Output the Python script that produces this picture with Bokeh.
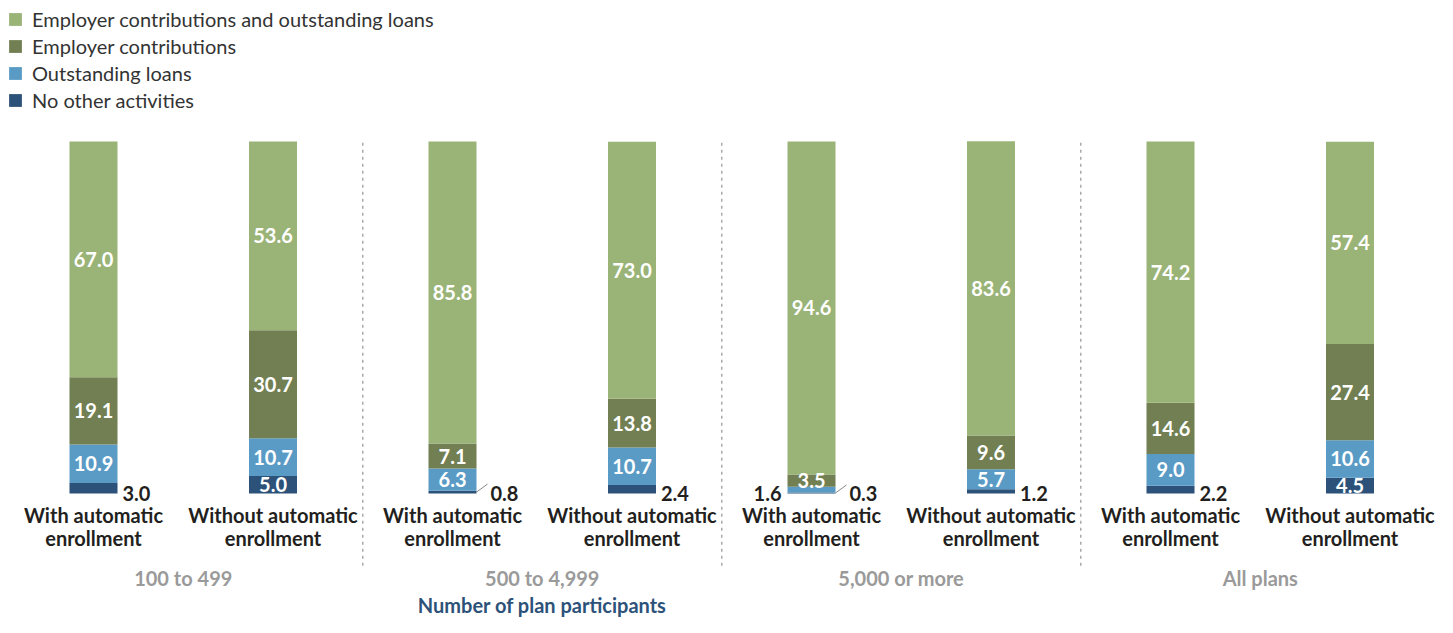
from bokeh.plotting import figure
from bokeh.models import ColumnDataSource, Range1d, Legend, LegendItem
from bokeh.core.properties import value
from bokeh.embed import file_html
from bokeh.resources import INLINE

# ---- data ----
groups = ["100 to 499", "500 to 4,999", "5,000 or more", "All plans"]
bar_line1 = ["With automatic", "Without automatic"] * 4
bar_line2 = ["enrollment"] * 8
no_other = [3.0, 5.0, 0.8, 2.4, 0.3, 1.2, 2.2, 4.5]
loans = [10.9, 10.7, 6.3, 10.7, 1.6, 5.7, 9.0, 10.6]
employer = [19.1, 30.7, 7.1, 13.8, 3.5, 9.6, 14.6, 27.4]
both = [67.0, 53.6, 85.8, 73.0, 94.6, 83.6, 74.2, 57.4]
series_names = ["No other activities", "Outstanding loans",
                "Employer contributions", "Employer contributions and outstanding loans"]
axis_title = "Number of plan participants"

# ---- style ----
colors = ["#2D5279", "#5A9BC6", "#717F53", "#9AB377"]
FONT = "Lato"
FS = "20px"
PITCH = 179.5          # px per bar slot
BAR_W = 48 / PITCH
PX_PER_UNIT = 3.52
N = len(no_other)

xs = list(range(N))
keys = ["s0", "s1", "s2", "s3"]
series = [no_other, loans, employer, both]
src = ColumnDataSource(dict(x=xs, s0=no_other, s1=loans, s2=employer, s3=both))

p = figure(width=1437, height=617, output_backend="svg", toolbar_location=None,
           x_range=Range1d(-93 / PITCH, (1437 - 93) / PITCH),
           y_range=Range1d(-35.23, 140.06),
           x_axis_location=None, y_axis_location=None, min_border=0)
p.outline_line_color = None
p.xgrid.visible = False
p.ygrid.visible = False

# group dividers
p.segment(x0=[1.5, 3.5, 5.5], x1=[1.5, 3.5, 5.5], y0=[-20.5] * 3, y1=[100.3] * 3,
          line_color="#AAAAAA", line_width=1.5, line_dash="3 4")

rends = p.vbar_stack(keys, x="x", width=BAR_W, color=colors, line_color=None, source=src)

# value labels
in_x, in_y, in_t = [], [], []
r_x, r_t, r_off = [], [], []
l_x, l_t = [], []
lead_x0, lead_y0, lead_x1, lead_y1 = [], [], [], []
for i in range(N):
    cum = 0.0
    for k, s in enumerate(series):
        v = s[i]
        if v >= 3.5:
            in_x.append(i); in_y.append(cum + v / 2); in_t.append(f"{v:.1f}")
        elif k == 0:
            r_x.append(i + BAR_W / 2); r_t.append(f"{v:.1f}")
            if v < 1:
                r_off.append(14)
                lead_x0.append(i + BAR_W / 2); lead_y0.append(cum + v / 2)
                lead_x1.append(i + BAR_W / 2 + 11 / PITCH)
                lead_y1.append(cum + v / 2 + 8 / PX_PER_UNIT)
            else:
                r_off.append(5)
        else:
            l_x.append(i - BAR_W / 2); l_t.append(f"{v:.1f}")
        cum += v

p.text(x=in_x, y=in_y, text=in_t, text_color="white", text_font=value(FONT),
       text_font_style="bold", text_font_size=FS, text_align="center",
       text_baseline="middle")
p.segment(x0=lead_x0, y0=lead_y0, x1=lead_x1, y1=lead_y1, line_color="#888888", line_width=1)
p.text(x=r_x, y=[0] * len(r_x), text=r_t, x_offset=r_off, text_color="#231F20",
       text_font=value(FONT), text_font_style="bold", text_font_size=FS,
       text_align="left", text_baseline="alphabetic")
p.text(x=l_x, y=[0] * len(l_x), text=l_t, x_offset=-6, text_color="#231F20",
       text_font=value(FONT), text_font_style="bold", text_font_size=FS,
       text_align="right", text_baseline="alphabetic")

# category labels
p.text(x=xs, y=[0] * N, text=bar_line1, y_offset=22, text_color="#231F20",
       text_font=value(FONT), text_font_style="bold", text_font_size=FS,
       text_align="center", text_baseline="middle")
p.text(x=xs, y=[0] * N, text=bar_line2, y_offset=45, text_color="#231F20",
       text_font=value(FONT), text_font_style="bold", text_font_size=FS,
       text_align="center", text_baseline="middle")

# group labels
gx = [2 * g + 0.5 for g in range(len(groups))]
p.text(x=gx, y=[0] * len(groups), text=groups, y_offset=85, text_color="#9A9A9A",
       text_font=value(FONT), text_font_style="bold", text_font_size=FS,
       text_align="center", text_baseline="middle")

# axis title
p.text(x=[2.5], y=[0], text=[axis_title], y_offset=112, text_color="#2D5279",
       text_font=value(FONT), text_font_style="bold", text_font_size=FS,
       text_align="center", text_baseline="middle")

legend = Legend(items=[LegendItem(label=series_names[k], renderers=[rends[k]]) for k in [3, 2, 1, 0]],
                location="top_left", margin=7, padding=0, spacing=3, label_height=24,
                glyph_height=16, glyph_width=16, label_standoff=9,
                label_text_font=FONT, label_text_font_size=FS,
                label_text_color="#333333", border_line_color=None,
                background_fill_alpha=0)
p.add_layout(legend)

open("out.html", "w").write(file_html(p, INLINE))
